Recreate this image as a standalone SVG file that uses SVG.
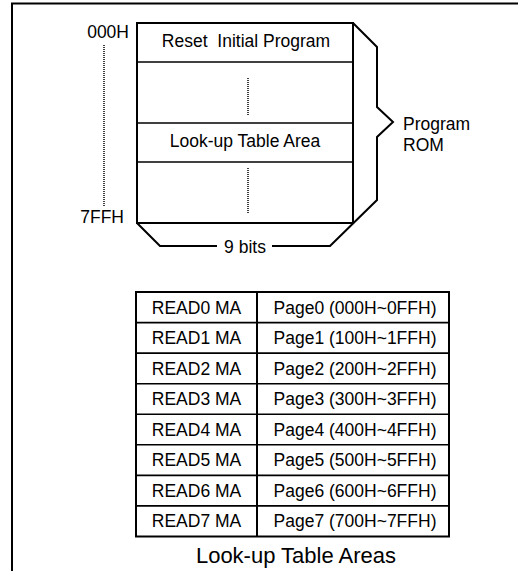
<svg xmlns="http://www.w3.org/2000/svg" width="518" height="571" viewBox="0 0 518 571">
<style>
text{font-family:"Liberation Sans",Arial,sans-serif;fill:#000}
.t{font-size:17.5px}
.c{text-anchor:middle}
.e{text-anchor:end}
.ln{stroke:#000;fill:none;stroke-width:2}
.thin{stroke:#000;fill:none;stroke-width:1.6}
.dot{stroke:#000;fill:none;stroke-width:1.5;stroke-dasharray:1 1}
</style>
<rect width="518" height="571" fill="#fff"/>
<g id="frame"><path class="ln" d="M12,571 V3.5 H518"/></g>
<g id="rom">
<rect class="ln" x="137" y="23" width="216" height="200"/>
<line class="thin" x1="137" y1="62" x2="353" y2="62"/>
<line class="thin" x1="137" y1="123" x2="353" y2="123"/>
<line class="thin" x1="137" y1="162" x2="353" y2="162"/>
<text class="t c" x="246" y="47" xml:space="preserve">Reset  Initial Program</text>
<text class="t c" x="245" y="147">Look-up Table Area</text>
<line class="dot" x1="248" y1="78" x2="248" y2="115"/>
<line class="dot" x1="248" y1="168" x2="248" y2="213"/>
</g>
<g id="addr">
<text class="t e" x="129" y="38">000H</text>
<text class="t e" x="124" y="223">7FFH</text>
<line class="dot" x1="104" y1="45" x2="104" y2="206"/>
</g>
<g id="connectors">
<path class="ln" d="M353,23 L377,47 V107 L393,122 L377,137 V200 L330,246 H272"/>
<path class="ln" d="M137,223 L160,246 H217"/>
</g>
<g id="labels">
<text class="t" x="403" y="130">Program</text>
<text class="t" x="403" y="151">ROM</text>
<text class="t c" x="245" y="253">9 bits</text>
</g>
<g id="table">
<rect class="ln" x="136" y="292" width="313" height="244.5"/>
<line class="ln" x1="257" y1="292" x2="257" y2="536.5"/>
<g class="thin">
<line x1="136" y1="322.6" x2="449" y2="322.6"/>
<line x1="136" y1="353.1" x2="449" y2="353.1"/>
<line x1="136" y1="383.7" x2="449" y2="383.7"/>
<line x1="136" y1="414.3" x2="449" y2="414.3"/>
<line x1="136" y1="444.8" x2="449" y2="444.8"/>
<line x1="136" y1="475.4" x2="449" y2="475.4"/>
<line x1="136" y1="505.9" x2="449" y2="505.9"/>
</g>
<g class="t c">
<text x="196.5" y="313.5">READ0 MA</text>
<text x="196.5" y="344.1">READ1 MA</text>
<text x="196.5" y="374.6">READ2 MA</text>
<text x="196.5" y="405.2">READ3 MA</text>
<text x="196.5" y="435.8">READ4 MA</text>
<text x="196.5" y="466.3">READ5 MA</text>
<text x="196.5" y="496.9">READ6 MA</text>
<text x="196.5" y="527.4">READ7 MA</text>
<text x="355" y="313.5">Page0 (000H~0FFH)</text>
<text x="355" y="344.1">Page1 (100H~1FFH)</text>
<text x="355" y="374.6">Page2 (200H~2FFH)</text>
<text x="355" y="405.2">Page3 (300H~3FFH)</text>
<text x="355" y="435.8">Page4 (400H~4FFH)</text>
<text x="355" y="466.3">Page5 (500H~5FFH)</text>
<text x="355" y="496.9">Page6 (600H~6FFH)</text>
<text x="355" y="527.4">Page7 (700H~7FFH)</text>
</g>
<text class="c" x="296" y="563" font-size="22">Look-up Table Areas</text>
</g>
</svg>
